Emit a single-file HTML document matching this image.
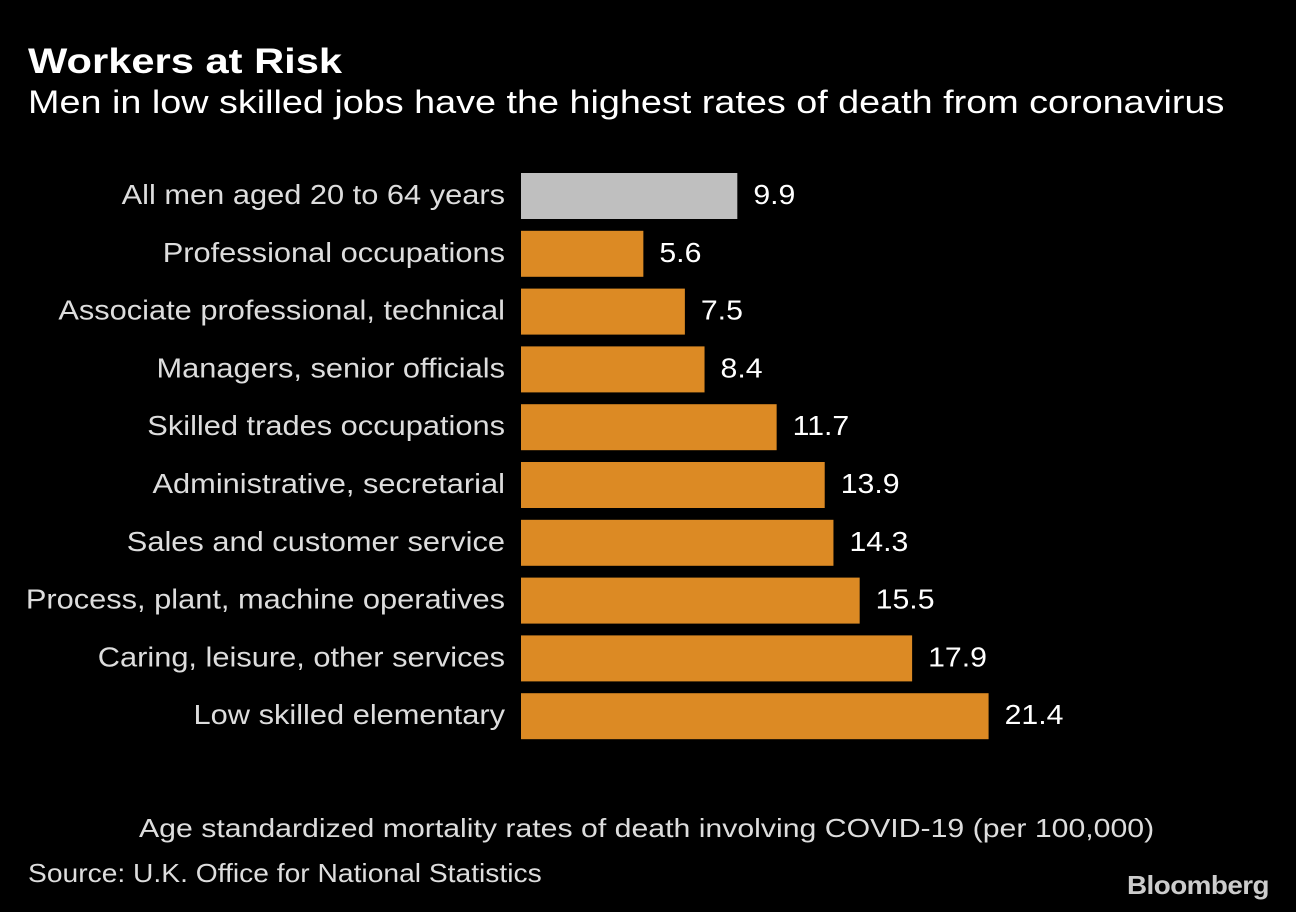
<!DOCTYPE html>
<html><head><meta charset="utf-8">
<style>
html,body{margin:0;padding:0;background:#000;}
body{width:1296px;height:912px;position:relative;overflow:hidden;font-family:"Liberation Sans",sans-serif;}
.t{position:absolute;white-space:nowrap;transform-origin:0 0;}
</style></head>
<body>
<div class="t" style="left:28px;top:42px;font-size:35px;font-weight:bold;color:#fff;transform:scaleX(1.19);">Workers at Risk</div>
<div class="t" style="left:28px;top:84px;font-size:32px;color:#fff;transform:scaleX(1.18);">Men in low skilled jobs have the highest rates of death from coronavirus</div>
<svg id="chart" width="1296" height="912" style="position:absolute;left:0;top:0;"></svg>
<div class="t" style="left:139px;top:813px;font-size:26px;color:#ddd;transform:scaleX(1.163);">Age standardized mortality rates of death involving COVID-19 (per 100,000)</div>
<div class="t" style="left:28px;top:858px;font-size:26px;color:#ddd;transform:scaleX(1.085);">Source: U.K. Office for National Statistics</div>
<div class="t" style="left:1127px;top:870px;font-size:26px;font-weight:bold;color:#ccc;letter-spacing:-0.5px;transform:scaleX(1.07);">Bloomberg</div>
<script>
const categories = ["All men aged 20 to 64 years","Professional occupations","Associate professional, technical","Managers, senior officials","Skilled trades occupations","Administrative, secretarial","Sales and customer service","Process, plant, machine operatives","Caring, leisure, other services","Low skilled elementary"];
const values = [9.9,5.6,7.5,8.4,11.7,13.9,14.3,15.5,17.9,21.4];
const valueLabels = ["9.9","5.6","7.5","8.4","11.7","13.9","14.3","15.5","17.9","21.4"];
const svg = document.getElementById('chart');
const NS = 'http://www.w3.org/2000/svg';
const x0 = 521, scale = 21.85;
const xScale = v => x0 + v * scale;
const yScale = i => 173 + i * 57.8;
const barH = 46;
categories.forEach((c, i) => {
  const y = yScale(i);
  const r = document.createElementNS(NS, 'rect');
  r.setAttribute('x', x0);
  r.setAttribute('y', y);
  r.setAttribute('width', xScale(values[i]) - x0);
  r.setAttribute('height', barH);
  r.setAttribute('fill', i === 0 ? '#bfbfbf' : '#dc8a24');
  
  
  svg.appendChild(r);
  const l = document.createElementNS(NS, 'text');
  l.setAttribute('x', 0);
  l.setAttribute('y', 0);
  l.setAttribute('transform', 'translate(505,' + (y + barH / 2 + 8) + ') scale(1.1,1)');
  l.setAttribute('text-anchor', 'end');
  l.setAttribute('font-size', '28');
  l.setAttribute('fill', '#ddd');
  l.setAttribute('font-family', 'Liberation Sans, sans-serif');
  l.textContent = c;
  
  
  svg.appendChild(l);
  const v = document.createElementNS(NS, 'text');
  v.setAttribute('x', 0);
  v.setAttribute('y', 0);
  v.setAttribute('transform', 'translate(' + (xScale(values[i]) + 16) + ',' + (y + barH / 2 + 8) + ') scale(1.08,1)');
  v.setAttribute('font-size', '28');
  v.setAttribute('fill', '#fff');
  v.setAttribute('font-family', 'Liberation Sans, sans-serif');
  v.textContent = valueLabels[i];
  
  
  svg.appendChild(v);
});
</script>
</body></html>
